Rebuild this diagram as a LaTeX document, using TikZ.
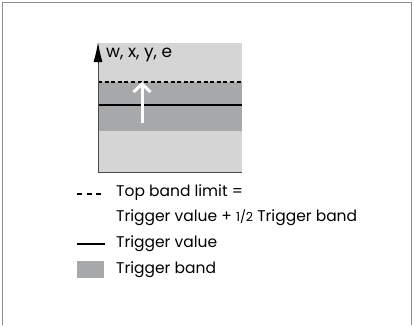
\documentclass[tikz,border=0pt]{standalone}
\usepackage{fontspec}
\setmainfont{Poppins}
\definecolor{framegray}{HTML}{8C8C8C}
\definecolor{panelgray}{HTML}{D5D5D6}
\definecolor{bandgray}{HTML}{A7A8AA}
\definecolor{axisgray}{HTML}{4A4A4A}
\usetikzlibrary{arrows.meta,positioning}

\begin{document}
\begin{tikzpicture}[x=1pt,y=-1pt,
  lbl/.style={anchor=west,inner sep=0pt,font=\fontsize{15.5}{17}\selectfont}]
  \useasboundingbox (0,0) rectangle (414,325);
  % outer frame
  \draw[framegray,line width=1.3pt] (2.5,325) -- (2.5,2.5) -- (411.5,2.5) -- (411.5,325);
  % chart panel and band
  \fill[panelgray] (98,43) rectangle (242,172);
  \fill[bandgray] (98,82) rectangle (242,131);
  \draw[line width=1.4pt] (98,105) -- (242,105);
  \draw[line width=1.4pt,dash pattern=on 4pt off 2.6pt] (98,82) -- (242,82);
  \draw[axisgray,line width=1pt] (98,172) -- (242,172);
  \draw[axisgray,line width=1pt] (98,172) -- (98,60);
  \coordinate (axbase) at (98,62);
  \coordinate (axtip) at (98,42);
  \draw[line width=1pt,-{Latex[length=20pt,width=9pt]},black] (axbase) -- (axtip);
  \node[lbl,font=\fontsize{17}{19}\selectfont] (axlabel) at (106,55) {w, x, y, e};
  % shift of the band
  \coordinate (base) at (142,123);
  \coordinate (tip) at (142,82);
  \draw[white,line width=3pt,-{Straight Barb[length=8pt,width=17pt,line width=3pt]}] (base) -- (tip);
  % legend
  \node[lbl] (toplim) at (116,193) {Top band limit =};
  \node[lbl] (formula) at (116,218) {Trigger value + {\fontsize{12.5}{14}\selectfont 1/2} Trigger band};
  \node[lbl] (trigval) at (116,244) {Trigger value};
  \node[lbl] (trigband) at (116,270) {Trigger band};
  \draw[line width=2pt,dash pattern=on 5pt off 4.5pt] (77,194) -- (103,194);
  \draw[line width=1.6pt] (77,244) -- (105,244);
  \fill[bandgray] (77,261) rectangle (104,278);
\end{tikzpicture}
\end{document}
